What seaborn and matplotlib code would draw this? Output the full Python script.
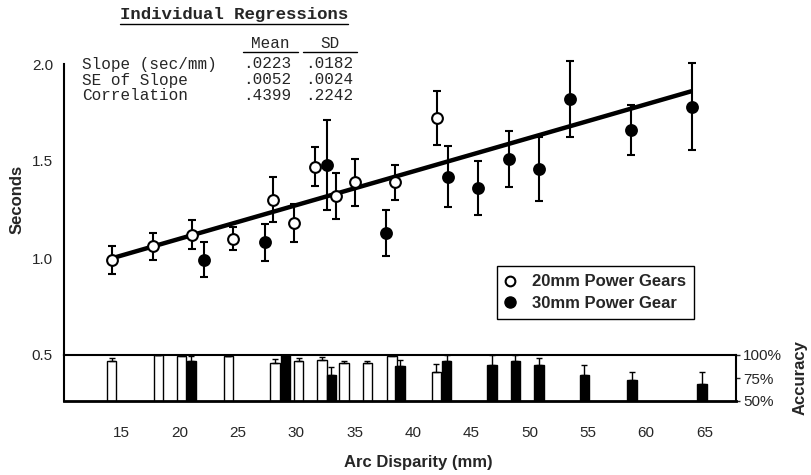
import numpy as np
import pandas as pd
import matplotlib
matplotlib.use("Agg")
import matplotlib.pyplot as plt
import seaborn as sns
from matplotlib.lines import Line2D

# data: response time (s) vs arc disparity (mm)
open_x = [14.2, 17.7, 21.1, 24.6, 28.0, 29.8, 31.6, 33.4, 35.0, 38.5, 42.1]
open_y = [0.99, 1.06, 1.12, 1.10, 1.30, 1.18, 1.47, 1.32, 1.39, 1.39, 1.72]
open_err = [0.07, 0.07, 0.075, 0.06, 0.115, 0.10, 0.10, 0.12, 0.12, 0.09, 0.14]

filled_x = [22.1, 27.3, 32.6, 37.7, 43.0, 45.6, 48.2, 50.8, 53.5, 58.7, 63.9]
filled_y = [0.99, 1.08, 1.48, 1.13, 1.42, 1.36, 1.51, 1.46, 1.82, 1.66, 1.78]
filled_err = [0.09, 0.095, 0.23, 0.12, 0.155, 0.14, 0.145, 0.165, 0.195, 0.13, 0.225]

# overall regression line (end points)
fit_x = [14.0, 63.9]
fit_y = [0.995, 1.86]

# accuracy (%) bars
white_bar_x = [14.2, 18.2, 20.2, 24.2, 28.2, 30.2, 32.2, 34.1, 36.1, 38.2, 42.0]
white_acc = [93, 100, 99, 99, 91, 94, 95, 91, 91, 99, 81]
white_acc_err = [3.5, 0, 1, 0, 4.5, 3, 2.5, 2.5, 2, 1, 9.5]
black_bar_x = [21.0, 29.1, 33.0, 38.9, 42.9, 46.8, 48.8, 50.8, 54.7, 58.8, 64.8]
black_acc = [94, 100, 78, 88, 94, 89, 94, 89, 78, 73, 68]
black_acc_err = [5, 0, 9.5, 7, 6, 11, 6, 8, 11.5, 8, 13.5]

x_ticks = [15, 20, 25, 30, 35, 40, 45, 50, 55, 60, 65]
sec_ticks = [0.5, 1.0, 1.5, 2.0]
acc_ticks = [50, 75, 100]
acc_labels = ["50%", "75%", "100%"]

table_rows = ["Slope (sec/mm)", "SE of Slope", "Correlation"]
table_mean = [".0223", ".0052", ".4399"]
table_sd = [".0182", ".0024", ".2242"]

sns.set_style("white")
plt.rcParams['font.family'] = ['Liberation Sans', 'DejaVu Sans']

W, H = 812, 475
fig = plt.figure(figsize=(W / 100, H / 100), dpi=100)


def box(l, t, r, b):
    return [l / W, 1 - b / H, (r - l) / W, (b - t) / H]


ax = fig.add_axes(box(64, 64, 736, 355))
axb = fig.add_axes(box(64, 355, 736, 401), sharex=ax)

# upper panel: seconds
ax.plot(fit_x, fit_y, color="black", linewidth=3.2, solid_capstyle="butt", zorder=2)
ax.errorbar(open_x, open_y, yerr=open_err, fmt="none", ecolor="black",
            elinewidth=1.5, capsize=3, capthick=1.5, zorder=3, clip_on=False)
ax.errorbar(filled_x, filled_y, yerr=filled_err, fmt="none", ecolor="black",
            elinewidth=1.5, capsize=3, capthick=1.5, zorder=3, clip_on=False)
sns.scatterplot(x=open_x, y=open_y, ax=ax, color="white", edgecolor="black",
                linewidth=1.5, s=60, zorder=4, clip_on=False)
sns.scatterplot(x=filled_x, y=filled_y, ax=ax, color="black", edgecolor="black",
                linewidth=1.5, s=60, zorder=4, clip_on=False)

ax.set_xlim(10.1, 67.7)
ax.set_ylim(0.5, 2.0)
ax.set_yticks(sec_ticks)
ax.set_yticklabels([f"{t:.1f}" for t in sec_ticks])
ax.tick_params(axis="y", length=0, labelsize=11, pad=8)
ax.tick_params(axis="x", length=0, labelbottom=False)
for s in ["top", "right", "bottom"]:
    ax.spines[s].set_visible(False)
ax.spines["left"].set_linewidth(1.5)
ax.spines["left"].set_color("black")
ax.set_ylabel("Seconds", fontsize=12, fontweight="bold")
ax.yaxis.label.set_va("center")
ax.yaxis.set_label_coords((17 - 64) / 672, (355 - 199) / 291)

# legend
handles = [Line2D([], [], marker="o", linestyle="none", markerfacecolor="white",
                  markeredgecolor="black", markeredgewidth=1.5, markersize=7),
           Line2D([], [], marker="o", linestyle="none", markerfacecolor="black",
                  markeredgecolor="black", markersize=8)]
leg = fig.legend(handles, ["20mm Power Gears", "30mm Power Gear"],
                 loc="upper left", bbox_to_anchor=(497 / W, 1 - 266 / H),
                 borderaxespad=0, frameon=True, fancybox=False, framealpha=1,
                 edgecolor="black", prop={"weight": "bold", "size": 12},
                 handlelength=0.6, handletextpad=1.0, borderpad=0.5,
                 labelspacing=0.4)
leg.get_frame().set_linewidth(1)

# lower panel: accuracy
axb.bar(white_bar_x, white_acc, width=0.8, color="white", edgecolor="black", linewidth=1, zorder=2)
axb.bar(black_bar_x, black_acc, width=0.8, color="black", edgecolor="black", linewidth=1, zorder=2)
axb.errorbar(white_bar_x, white_acc, yerr=[np.zeros(len(white_acc)), white_acc_err], fmt="none",
             ecolor="black", elinewidth=1, capsize=2, capthick=1, zorder=3)
axb.errorbar(black_bar_x, black_acc, yerr=[np.zeros(len(black_acc)), black_acc_err], fmt="none",
             ecolor="black", elinewidth=1, capsize=2, capthick=1, zorder=3)
axb.set_ylim(50, 100)
axb.yaxis.tick_right()
axb.set_yticks(acc_ticks)
axb.set_yticklabels(acc_labels)
axb.tick_params(axis="y", direction="out", length=3, width=1, labelsize=11, pad=2)
axb.set_xticks(x_ticks)
axb.set_xticklabels([str(t) for t in x_ticks])
axb.tick_params(axis="x", direction="out", length=4, width=1, labelsize=11, pad=14)
for s in ["top", "left", "right"]:
    axb.spines[s].set_linewidth(1.5)
    axb.spines[s].set_color("black")
axb.spines["bottom"].set_linewidth(2)
axb.spines["bottom"].set_color("black")
axb.set_xlabel("Arc Disparity (mm)", fontsize=12, fontweight="bold")
axb.xaxis.label.set_va("center")
axb.xaxis.set_label_coords((418 - 64) / 672, (401 - 462) / 46)
axb.yaxis.set_label_position("right")
axb.set_ylabel("Accuracy", fontsize=12, fontweight="bold")
axb.yaxis.label.set_va("center")
axb.yaxis.set_label_coords((800 - 64) / 672, (401 - 378) / 46)

# regression table
mono = ['Liberation Mono', 'DejaVu Sans Mono']
title = fig.text(120 / W, 1 - 15 / H, "Individual Regressions", family=mono,
                 fontsize=12.5, fontweight="bold", va="center", ha="left")
h_mean = fig.text(270 / W, 1 - 43 / H, "Mean", family=mono, fontsize=11.5, va="center", ha="center")
h_sd = fig.text(330 / W, 1 - 43 / H, "SD", family=mono, fontsize=11.5, va="center", ha="center")
for i, lab in enumerate(table_rows):
    yy = 1 - (64 + 16 * i) / H
    fig.text(82 / W, yy, lab, family=mono, fontsize=11.5, va="center", ha="left")
    fig.text(243 / W, yy, table_mean[i], family=mono, fontsize=11.5, va="center", ha="left")
    fig.text(305 / W, yy, table_sd[i], family=mono, fontsize=11.5, va="center", ha="left")

# underline title and column headers (pixel spans)
fig.canvas.draw()
tb = title.get_window_extent()
underlines = [(tb.x0, tb.x1, tb.y0 - 1),
              (243, 298, h_mean.get_window_extent().y0 - 1),
              (303, 357, h_sd.get_window_extent().y0 - 1)]
inv = fig.transFigure.inverted()
for xa, xb, yline in underlines:
    p0 = inv.transform((xa, yline))
    p1 = inv.transform((xb, yline))
    fig.add_artist(Line2D([p0[0], p1[0]], [p0[1], p1[1]], color="black", linewidth=1,
                          transform=fig.transFigure))

fig.savefig("out.png", dpi=100)
